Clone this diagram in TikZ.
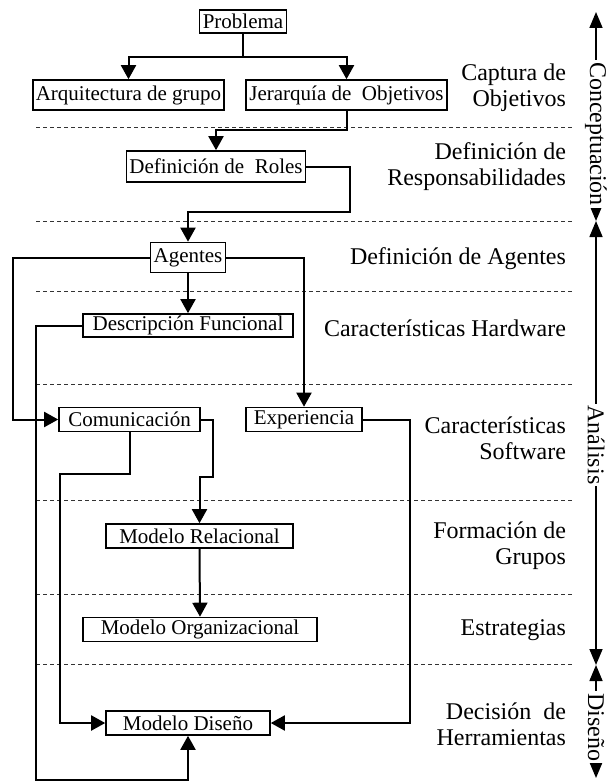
\documentclass[tikz,border=0pt]{standalone}
\usepackage{fontspec}
\setmainfont{Liberation Serif}
\usepackage{tikz}
\usetikzlibrary{arrows.meta,positioning}

\tikzset{
    box/.style={draw, line width=0.8pt, inner xsep=1.5pt, inner ysep=1pt, minimum height=12pt, font=\fontsize{10.5}{12}\selectfont},
    arr/.style={line width=1pt, -{Triangle[length=7pt,width=7.5pt]}},
    link/.style={line width=1pt},
    sep/.style={dashed, dash pattern=on 2pt off 1.5pt, line width=0.4pt, black!80},
    stage/.style={anchor=east, align=right, font=\fontsize{12}{13}\selectfont},
    phase/.style={line width=0.8pt, {Triangle[length=8pt,width=6.5pt]}-{Triangle[length=8pt,width=6.5pt]}},
    phaselabel/.style={fill=white, rotate=-90, inner sep=1pt, font=\fontsize{12}{13}\selectfont}
}

\begin{document}
\begin{tikzpicture}[x=0.5pt, y=-0.5pt]
    \useasboundingbox (0,0) rectangle (613,781);

    % Separators
    \foreach \y in {127,221,291,384,500,594,664}
        \draw[sep] (36,\y) -- (573,\y);

    % Boxes
    \node[box, minimum width=43.5pt, minimum height=11.5pt] (problema) at (243,21.5) {Problema};
    \node[box, minimum width=92.5pt, minimum height=15pt] (arquitectura) at (128.5,95) {Arquitectura de grupo};
    \node[box, minimum width=100.5pt, minimum height=15pt] (jerarquia) at (346.5,95) {Jerarquía de\ \ Objetivos};
    \node[box, minimum width=87pt, minimum height=15.5pt] (roles) at (216,166.5) {Definición de\ \ Roles};
    \node[box, minimum width=35pt, minimum height=15pt] (agentes) at (188,257.5) {Agentes};
    \node[box, minimum width=105pt, minimum height=11.5pt] (descripcion) at (188,325.5) {Descripción Funcional};
    \node[box, minimum width=70.5pt] (comunicacion) at (129.5,419.5) {Comunicación};
    \node[box, minimum width=58pt] (experiencia) at (304,419.5) {Experiencia};
    \node[box, minimum width=93.5pt] (relacional) at (199.5,536) {Modelo Relacional};
    \node[box, minimum width=117pt] (organizacional) at (200,629.5) {Modelo Organizacional};
    \node[box, minimum width=82pt] (diseno) at (188,723) {Modelo Diseño};

    % Connectors
    \coordinate (split) at (243,57);
    \draw[link] (problema.south) -- (split);
    \draw[arr] (split) -| (arquitectura.north);
    \draw[arr] (split) -| (jerarquia.north);
    \draw[arr] (jerarquia.south) |- (216,130) -- (roles.north);
    \draw[arr] (roles.east) -| (350,212) -| (agentes.north);
    \draw[arr] (agentes.west) -| (13,419.5) -- (comunicacion.west);
    \draw[arr] (agentes.east) -| (experiencia.north);
    \draw[arr] (agentes.south) -- (descripcion.north);
    \draw[arr] (descripcion.west) -| (36,780) -| (diseno.south);
    \draw[arr] (comunicacion.east) -| (213,477) -| (relacional.north);
    \draw[arr] (comunicacion.south) |- (60,474) |- (diseno.west);
    \draw[arr] (experiencia.east) -| (410,723) -- (diseno.east);
    \draw[arr] (relacional.south) -- (organizacional.north);

    % Stages
    \node[stage] (s1) at (573,88) {Captura de\\Objetivos};
    \node[stage] (s2) at (573,167) {Definición de\\Responsabilidades};
    \node[stage] (s3) at (573,259) {Definición de Agentes};
    \node[stage] (s4) at (573,328) {Características Hardware};
    \node[stage] (s5) at (573,438) {Características\\Software};
    \node[stage] (s6) at (573,546) {Formación de\\Grupos};
    \node[stage] (s7) at (573,630) {Estrategias};
    \node[stage] (s8) at (573,724) {Decisión\ \ de\\Herramientas};

    % Phases
    \draw[phase] (596,221) -- (596,12);
    \draw[phase] (596,221) -- (596,665);
    \draw[phase] (596,665) -- (596,778);
    \node[phaselabel] (conceptuacion) at (596,134) {Conceptuación};
    \node[phaselabel] (analisis) at (596,445) {Análisis};
    \node[phaselabel] (disenyo) at (596,727) {Diseño};
\end{tikzpicture}
\end{document}
